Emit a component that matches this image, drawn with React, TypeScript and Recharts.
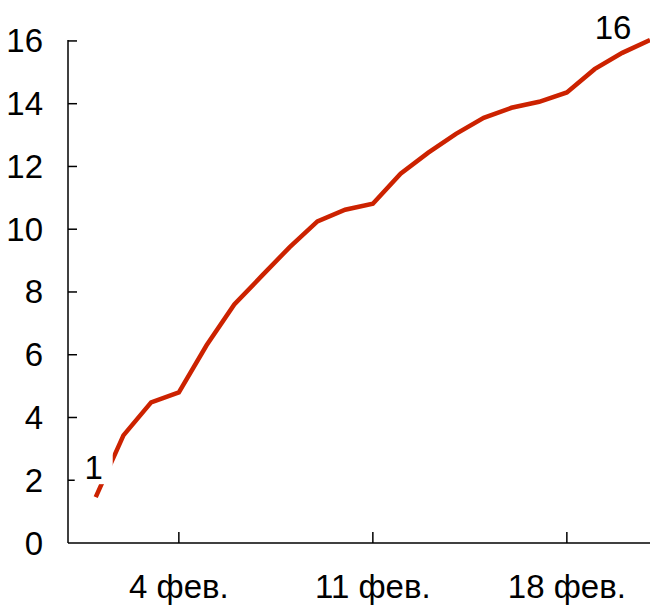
import React from "react";
import { LineChart, Line, XAxis, YAxis, LabelList } from "recharts";

// days of February, one value per day
const days = [1, 2, 3, 4, 5, 6, 7, 8, 9, 10, 11, 12, 13, 14, 15, 16, 17, 18, 19, 20, 21];
const values = [
  1.46, 3.43, 4.48, 4.8, 6.3, 7.6, 8.52, 9.43, 10.25, 10.62, 10.81,
  11.77, 12.44, 13.04, 13.55, 13.87, 14.06, 14.36, 15.1, 15.62, 16.03,
];
const xTicks = [4, 11, 18];
const xTickLabels = ["4 фев.", "11 фев.", "18 фев."];
const yTicks = [0, 2, 4, 6, 8, 10, 12, 14, 16];

const data = days.map((d, i) => ({ day: d, value: values[i] }));

const FONT = "'Liberation Sans', Arial, sans-serif";
const RED = "#CC2200";
const FS = 33;

function YTick(props: any) {
  const { x, y, payload } = props;
  return (
    <g>
      {payload.value !== 0 && (
        <line x1={x} x2={x + 9} y1={y} y2={y} stroke="#000" strokeWidth={1.5} />
      )}
      <text x={x - 25} y={y} textAnchor="end" dominantBaseline="central"
        fontSize={FS} fontFamily={FONT} fill="#000">
        {payload.value}
      </text>
    </g>
  );
}

function XTick(props: any) {
  const { x, y, payload } = props;
  const idx = xTicks.indexOf(payload.value);
  return (
    <g>
      <line x1={x} x2={x} y1={y} y2={y - 11} stroke="#000" strokeWidth={1.5} />
      <text x={x} y={y + 43} textAnchor="middle" dominantBaseline="central"
        fontSize={FS} fontFamily={FONT} fill="#000">
        {xTickLabels[idx]}
      </text>
    </g>
  );
}

function EndLabel(props: any) {
  const { x, y, value, index } = props;
  if (index === 0) {
    return (
      <g>
        <rect x={x - 21} y={y - 45} width={38} height={32} fill="#fff" />
        <text x={x - 2} y={y - 30} textAnchor="middle" dominantBaseline="central"
          fontSize={FS} fontFamily={FONT} fill="#000">
          {Number(value).toFixed(0)}
        </text>
      </g>
    );
  }
  if (index === values.length - 1) {
    return (
      <text x={x - 37} y={y - 13} textAnchor="middle" dominantBaseline="central"
        fontSize={FS} fontFamily={FONT} fill="#000">
        {Number(value).toFixed(0)}
      </text>
    );
  }
  return null;
}

export default function App() {
  return (
    <div style={{ position: "absolute", left: 0, top: 0, background: "#fff" }}>
      <LineChart width={650} height={605} data={data}
        margin={{ top: 40, right: 0, bottom: 0, left: 0 }}>
        <XAxis
          dataKey="day"
          type="number"
          domain={[0, 21]}
          ticks={xTicks}
          height={62}
          tickSize={0}
          tickMargin={0}
          tickLine={false}
          axisLine={{ stroke: "#000", strokeWidth: 1.5 }}
          tick={<XTick />}
          interval={0}
        />
        <YAxis
          domain={[0, 16]}
          ticks={yTicks}
          width={68}
          tickSize={0}
          tickMargin={0}
          tickLine={false}
          axisLine={{ stroke: "#000", strokeWidth: 1.5 }}
          tick={<YTick />}
          interval={0}
        />
        <Line
          type="linear"
          dataKey="value"
          stroke={RED}
          strokeWidth={4.5}
          dot={false}
          isAnimationActive={false}
        >
          <LabelList dataKey="value" content={<EndLabel />} />
        </Line>
      </LineChart>
    </div>
  );
}
